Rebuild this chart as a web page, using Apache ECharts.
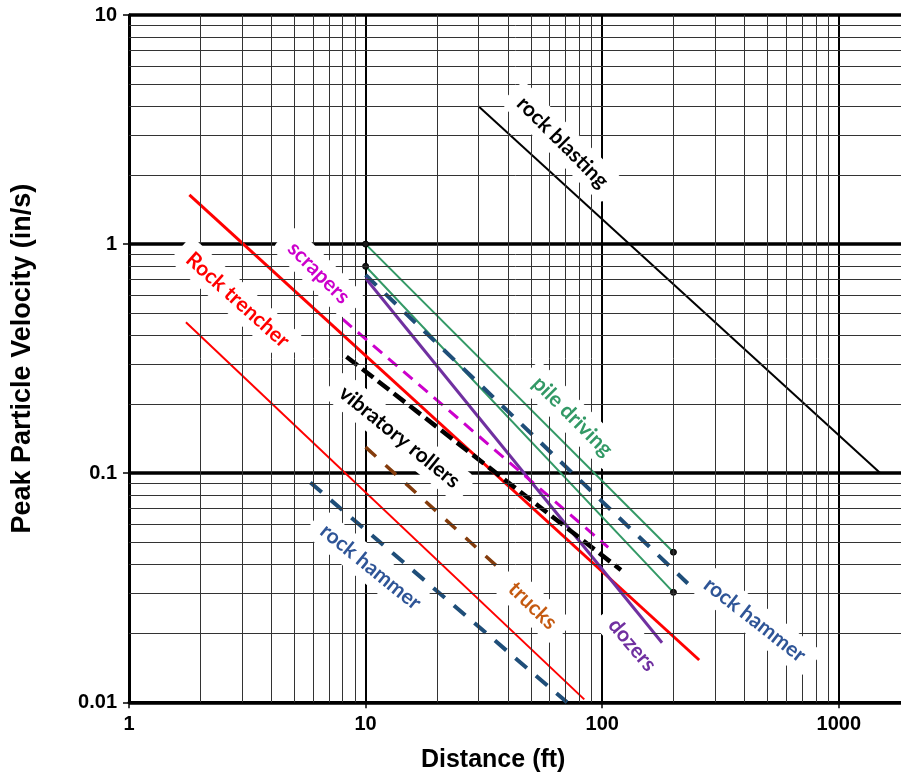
<!DOCTYPE html>
<html>
<head>
<meta charset="utf-8">
<title>Peak Particle Velocity vs Distance</title>
<script src="https://cdn.jsdelivr.net/npm/echarts@6/dist/echarts.min.js"></script>
<style>
  html, body { margin: 0; padding: 0; background: #fff; }
  #chart { width: 901px; height: 776px; }
</style>
</head>
<body>
<div id="chart"></div>
<script>
// Attenuation lines: [distance (ft), PPV (in/s)] end points
const rockBlasting      = [[30, 4.0], [1500, 0.1]];
const rockTrencherHigh  = [[1.8, 1.64], [257, 0.0153]];
const rockTrencherLow   = [[1.74, 0.456], [84, 0.0103]];
const scrapers          = [[8, 0.47], [106, 0.0475]];
const vibratoryRollers  = [[8.3, 0.3225], [120, 0.0378]];
const trucks            = [[10, 0.130], [38.7, 0.0366]];
const rockHammerLow     = [[5.84, 0.091], [71, 0.01]];
const rockHammerHigh    = [[10, 0.733], [230, 0.033]];
const pileDrivingHigh   = [[10, 1.0], [200, 0.0452]];
const pileDrivingLow    = [[10, 0.8], [200, 0.0302]];
const dozers            = [[10, 0.709], [179, 0.0182]];

// Axis ranges and minor grid values
const xRange = [1, 10000];
const yRange = [0.01, 10];
const xMinor = [2, 3, 4, 5, 6, 7, 8, 9, 20, 30, 40, 50, 60, 70, 80, 90,
                200, 300, 400, 500, 600, 700, 800, 900, 2000, 3000];
const yMinor = [0.02, 0.03, 0.04, 0.05, 0.06, 0.07, 0.08, 0.09,
                0.2, 0.3, 0.4, 0.5, 0.6, 0.7, 0.8, 0.9,
                2, 3, 4, 5, 6, 7, 8, 9];

// Line labels: text, anchor (distance, PPV), angle, colour
const labelTexts  = ['rock blasting', 'Rock trencher', 'scrapers', 'vibratory rollers',
                     'pile driving', 'rock hammer', 'rock hammer', 'trucks', 'dozers'];
const labelX      = [68, 2.88, 6.34, 13.9, 75, 10.5, 441, 50.8, 134];
const labelY      = [2.78, 0.57, 0.75, 0.144, 0.177, 0.039, 0.0229, 0.0264, 0.0178];
const labelAngle  = [-45, -42, -45, -39, -45, -39, -38, -44, -50];
const labelColor  = ['#000000', '#FF0000', '#CC00CC', '#000000', '#339966',
                     '#2F5597', '#2F5597', '#C55A11', '#7030A0'];

function lineSeries(name, data, style, extra) {
  return Object.assign({
    name: name,
    type: 'line',
    data: data,
    symbol: 'none',
    z: 3,
    silent: true,
    animation: false,
    lineStyle: style
  }, extra || {});
}

const pileMarkers = {
  symbol: 'circle',
  symbolSize: 6,
  showSymbol: true,
  itemStyle: { color: '#1a1a1a', borderColor: '#000', borderWidth: 1 }
};

const gridSeries = {
  name: 'minor grid',
  type: 'line',
  data: [],
  z: 1,
  silent: true,
  animation: false,
  markLine: {
    silent: true,
    symbol: 'none',
    animation: false,
    label: { show: false },
    lineStyle: { color: '#333333', width: 1, type: 'solid' },
    data: xMinor.map(v => ({ xAxis: v })).concat(yMinor.map(v => ({ yAxis: v })))
  }
};

const labelSeries = {
  name: 'labels',
  type: 'scatter',
  symbolSize: 0,
  z: 10,
  silent: true,
  animation: false,
  data: labelTexts.map((t, i) => ({
    value: [labelX[i], labelY[i]],
    label: {
      show: true,
      position: 'inside',
      formatter: t,
      rotate: labelAngle[i],
      color: labelColor[i],
      opacity: 1,
      textBorderWidth: 0,
      fontFamily: 'Lato',
      fontWeight: 'bold',
      fontSize: 21,
      backgroundColor: '#ffffff',
      padding: [6, 12, 6, 12],
      borderRadius: 8
    }
  }))
};

const plainNumber = v => String(+Number(v).toPrecision(3));

const chart = echarts.init(document.getElementById('chart'), null, { renderer: 'canvas' });

chart.setOption({
  animation: false,
  backgroundColor: '#ffffff',
  grid: {
    left: 129, top: 15, width: 946.4, height: 687.3,
    containLabel: false, outerBoundsMode: 'none'
  },
  xAxis: {
    type: 'log',
    logBase: 10,
    min: xRange[0],
    max: xRange[1],
    name: 'Distance (ft)',
    nameLocation: 'middle',
    nameGap: 45,
    nameTextStyle: {
      fontFamily: 'Liberation Sans', fontWeight: 'bold', fontSize: 25, color: '#000',
      padding: [0, 218, 0, 0]
    },
    axisLine: { show: true, lineStyle: { color: '#000', width: 3 } },
    axisTick: { show: true, length: 6, lineStyle: { color: '#000', width: 1.5 } },
    axisLabel: {
      fontFamily: 'Liberation Sans', fontWeight: 'bold', fontSize: 20, color: '#000', margin: 12,
      formatter: plainNumber
    },
    splitLine: { show: true, lineStyle: { color: '#000', width: 2 } }
  },
  yAxis: {
    type: 'log',
    logBase: 10,
    min: yRange[0],
    max: yRange[1],
    name: 'Peak Particle Velocity (in/s)',
    nameLocation: 'middle',
    nameGap: 93,
    nameTextStyle: { fontFamily: 'Liberation Sans', fontWeight: 'bold', fontSize: 27, color: '#000' },
    axisLine: { show: true, lineStyle: { color: '#000', width: 3 } },
    axisTick: { show: true, length: 6, lineStyle: { color: '#000', width: 1.5 } },
    axisLabel: {
      fontFamily: 'Liberation Sans', fontWeight: 'bold', fontSize: 20, color: '#000', margin: 12,
      formatter: plainNumber
    },
    splitLine: { show: true, lineStyle: { color: '#000', width: 3.5 } }
  },
  series: [
    gridSeries,
    lineSeries('rock blasting', rockBlasting, { color: '#000000', width: 2 }),
    lineSeries('Rock trencher (high)', rockTrencherHigh, { color: '#FF0000', width: 3 }),
    lineSeries('Rock trencher (low)', rockTrencherLow, { color: '#FF0000', width: 2 }),
    lineSeries('pile driving (high)', pileDrivingHigh, { color: '#339966', width: 2 }, pileMarkers),
    lineSeries('pile driving (low)', pileDrivingLow, { color: '#339966', width: 2 }, pileMarkers),
    lineSeries('rock hammer (high)', rockHammerHigh, { color: '#1F4E79', width: 4, type: [15, 12] }),
    lineSeries('rock hammer (low)', rockHammerLow, { color: '#1F4E79', width: 4, type: [15, 12] }),
    lineSeries('dozers', dozers, { color: '#7030A0', width: 3 }),
    lineSeries('scrapers', scrapers, { color: '#CC00CC', width: 3, type: [12, 8] }),
    lineSeries('vibratory rollers', vibratoryRollers, { color: '#000000', width: 4.5, type: [14, 6] }),
    lineSeries('trucks', trucks, { color: '#843C0C', width: 3.5, type: [14, 13] }),
    labelSeries
  ]
});
</script>
</body>
</html>
